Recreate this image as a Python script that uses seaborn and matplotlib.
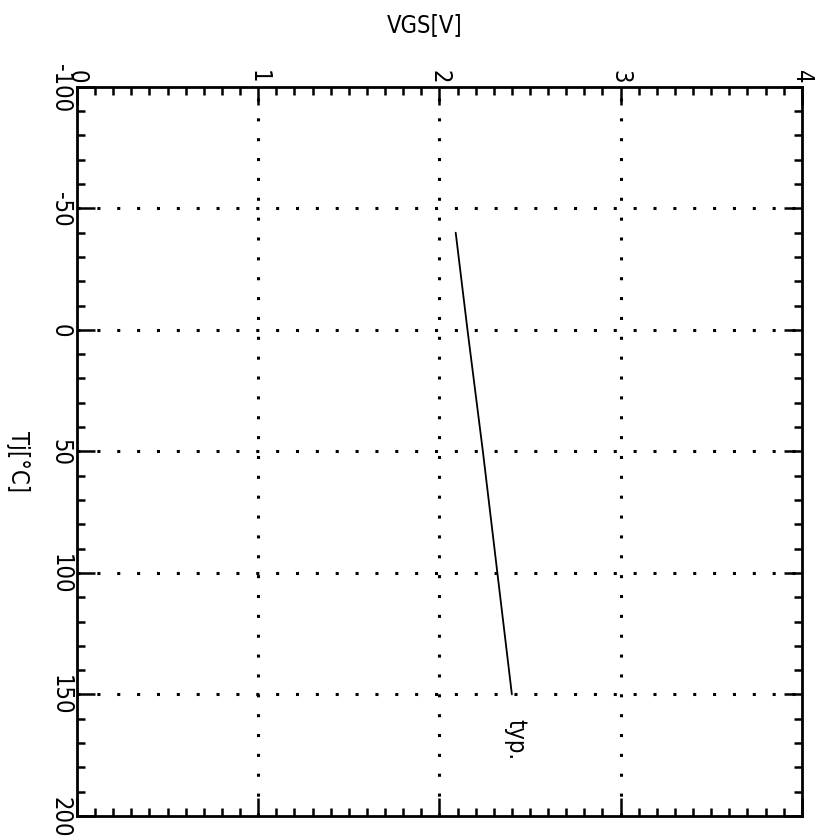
import numpy as np
import pandas as pd
import matplotlib
matplotlib.use("Agg")
import matplotlib.pyplot as plt
from matplotlib.ticker import MultipleLocator
import seaborn as sns

# Gate threshold voltage vs junction temperature (typ.)
tj_values = [-40, 0, 50, 100, 150]
vgs_values = [2.09, 2.155, 2.24, 2.32, 2.40]
vgs_ticks = [0, 1, 2, 3, 4]
tj_ticks = [-100, -50, 0, 50, 100, 150, 200]

sns.set_theme(style="white")
plt.rcParams['font.family'] = ['DejaVu Sans']
plt.rcParams['font.stretch'] = 'condensed'
plt.rcParams['text.color'] = 'black'
plt.rcParams['xtick.labelcolor'] = 'black'
plt.rcParams['ytick.labelcolor'] = 'black'

df = pd.DataFrame({'VGS': vgs_values, 'Tj': tj_values})

fig = plt.figure(figsize=(8.19, 8.37), dpi=100)
ax = fig.add_axes([0.094, 0.024, 0.885, 0.871])

sns.lineplot(data=df, x='VGS', y='Tj', estimator=None, sort=False,
             color='black', linewidth=1.3, ax=ax)

ax.set_xlim(0, 4)
ax.set_ylim(200, -100)
ax.set_xticks(vgs_ticks)
ax.set_yticks(tj_ticks)
ax.set_xticklabels([str(v) for v in vgs_ticks], rotation=-90, fontsize=17)
ax.set_yticklabels([str(v) for v in tj_ticks], rotation=-90, fontsize=17,
                   va='center')
ax.xaxis.set_minor_locator(MultipleLocator(0.1))
ax.yaxis.set_minor_locator(MultipleLocator(10))
ax.xaxis.tick_top()
ax.tick_params(which='both', direction='in', top=True, bottom=True,
               left=True, right=True, labelbottom=False, labelright=False,
               labeltop=True, labelleft=True, color='black', width=1.8)
ax.tick_params(which='major', length=13, pad=3)
ax.tick_params(which='minor', length=6)

for s in ax.spines.values():
    s.set_color('black')
    s.set_linewidth(2)

for v in vgs_ticks[1:-1]:
    ax.axvline(v, color='black', linestyle=(0, (1, 5.5)), linewidth=2.2)
for t in tj_ticks[1:-1]:
    ax.axhline(t, color='black', linestyle=(0, (1, 5.5)), linewidth=2.2)

ax.set_xlabel('')
ax.set_ylabel('')
fig.text(0.519, 0.97, 'VGS[V]', ha='center', va='center', fontsize=17)
fig.text(0.022, 0.448, 'Tj[°C]', ha='center', va='center', fontsize=17,
         rotation=-90)
ax.text(2.42, 168, 'typ.', ha='center', va='center', fontsize=17,
        rotation=-90)

fig.savefig('out.png', dpi=100)
